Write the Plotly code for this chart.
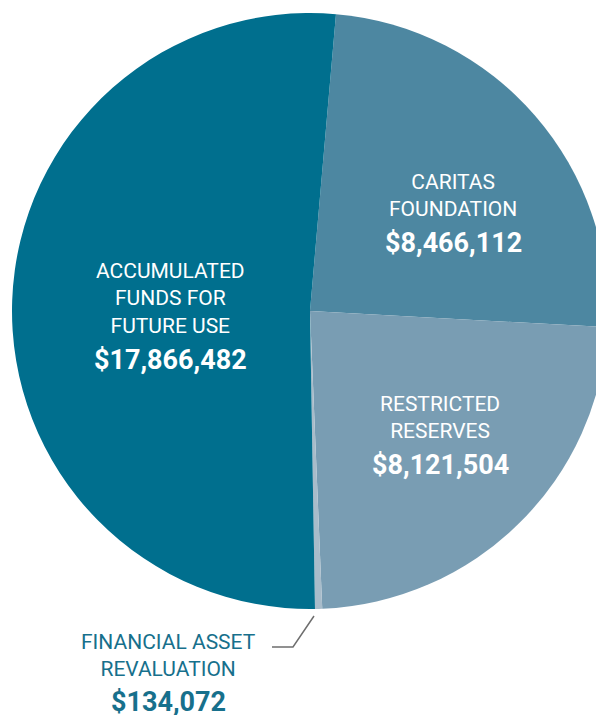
import plotly.graph_objects as go

labels = ["CARITAS<br>FOUNDATION", "RESTRICTED<br>RESERVES",
          "FINANCIAL ASSET<br>REVALUATION", "ACCUMULATED<br>FUNDS FOR<br>FUTURE USE"]
values = [8466112, 8121504, 134072, 17866482]
colors = ["#4D87A1", "#799DB3", "#A8BCCA", "#006F8E"]

# pie circle: centre (310, 311), radius 298 in page pixels, right side runs off the page
L, R, T, B = 12, 12, 13, 106
W = L + 596 + R
H = T + 596 + B


def px(x, y):
    # page pixel -> paper coords
    return (x - L) / (W - L - R), 1 - (y - T) / (H - T - B)


fig = go.Figure()
fig.add_trace(go.Pie(labels=labels, values=values, sort=False, direction="clockwise",
                     rotation=5, marker=dict(colors=colors, line=dict(width=0)),
                     textinfo="none", hoverinfo="label+value", showlegend=False))

# label positions in page pixels (x, name centre y, value centre y, colour)
spots = [(453, 196, 243, "white"), (440, 417, 465, "white"),
         (168, 655, 702, "#17708C"), (171, 298, 360, "white")]
for lab, val, (x, yl, yv, c) in zip(labels, values, spots):
    ax, ay = px(x, yl)
    fig.add_annotation(x=ax, y=ay, xref="paper", yref="paper", text=lab, showarrow=False,
                       xanchor="center", yanchor="middle",
                       font=dict(family="Roboto", size=21, color=c), align="center")
    bx, by = px(x, yv)
    fig.add_annotation(x=bx, y=by, xref="paper", yref="paper", text=f"<b>${val:,}</b>",
                       showarrow=False, xanchor="center", yanchor="middle",
                       font=dict(family="Roboto", size=27, color=c))

# leader line for the small slice
pts = [px(272, 647), px(293, 647), px(314, 616)]
path = "M {} {} L {} {} L {} {}".format(*[v for p in pts for v in p])
fig.add_shape(type="path", path=path, xref="paper", yref="paper",
              line=dict(color="#6E6E6E", width=1.5))

fig.update_layout(width=W, height=H, margin=dict(l=L, r=R, t=T, b=B),
                  paper_bgcolor="white", plot_bgcolor="white")
fig.write_html("out.html", config={"displayModeBar": False},
               post_script="document.body.style.margin='0';document.body.style.overflow='hidden';")
